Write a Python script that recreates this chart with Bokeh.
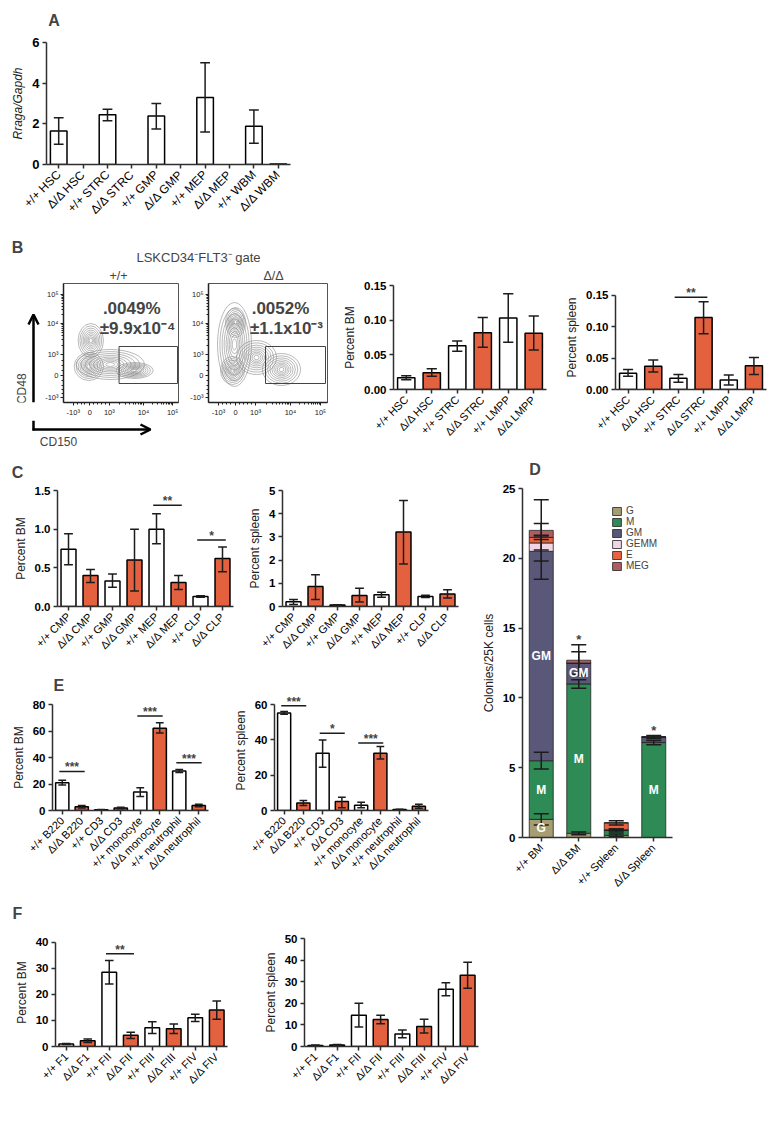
import math
import numpy as np
from bokeh.plotting import figure
from bokeh.models import (Range1d, FixedTicker, ColumnDataSource, Label, Arrow,
                          OpenHead, Legend, LegendItem, Spacer)
from bokeh.layouts import row, column
from bokeh.embed import file_html
from bokeh.resources import INLINE
from bokeh.core.properties import value

NAN = float("nan")

# ---------------- data ----------------
# Panel A
a_cats = ["+/+ HSC", "Δ/Δ HSC", "+/+ STRC", "Δ/Δ STRC", "+/+ GMP", "Δ/Δ GMP",
          "+/+ MEP", "Δ/Δ MEP", "+/+ WBM", "Δ/Δ WBM"]
a_vals = [1.65, NAN, 2.45, NAN, 2.38, NAN, 3.30, NAN, 1.88, 0.03]
a_lo = [1.00, NAN, 2.15, NAN, 1.75, NAN, 1.60, NAN, 1.05, NAN]
a_hi = [2.30, NAN, 2.72, NAN, 3.00, NAN, 5.00, NAN, 2.68, NAN]
a_yticks = [0, 2, 4, 6]
a_yticklabels = ["0", "2", "4", "6"]

# Panel B flow texts
b_flow_pct = [".0049%", ".0052%"]
b_flow_sd = ["±9.9x10⁻⁴", "±1.1x10⁻³"]
flow_tick_labels = ["-10³", "0", "10³", "10⁴", "10⁵"]
# contour populations (axis units of the flow frames)
flow1_cx = [26, 28, 73, 48]
flow1_cy = [36, 62, 32, 38]
flow1_w = [30, 26, 38, 70]
flow1_h = [28, 34, 16, 30]
flow2_cx = [26, 27, 24, 73, 48]
flow2_cy = [58, 80, 32, 33, 45]
flow2_w = [34, 20, 24, 38, 40]
flow2_h = [84, 30, 28, 32, 34]
flow_gate = [57, 19, 117, 56]  # x0, y0, x1, y1

# Panel B bars
b_cats = ["+/+ HSC", "Δ/Δ HSC", "+/+ STRC", "Δ/Δ STRC", "+/+ LMPP", "Δ/Δ LMPP"]
b_bm = [0.017, 0.024, 0.063, 0.082, 0.103, 0.081]
b_bm_lo = [0.014, 0.019, 0.055, 0.061, 0.068, 0.057]
b_bm_hi = [0.020, 0.030, 0.070, 0.104, 0.138, 0.106]
b_sp = [0.026, 0.037, 0.018, 0.115, 0.015, 0.038]
b_sp_lo = [0.021, 0.028, 0.0115, 0.089, 0.007, 0.024]
b_sp_hi = [0.032, 0.047, 0.024, 0.140, 0.023, 0.051]
b_sp_sig = [(2, 3, 0.147, "**")]
b_yticks = [0, 0.05, 0.1, 0.15]
b_yticklabels = ["0.00", "0.05", "0.10", "0.15"]

# Panel C
c_cats = ["+/+ CMP", "Δ/Δ CMP", "+/+ GMP", "Δ/Δ GMP", "+/+ MEP", "Δ/Δ MEP", "+/+ CLP", "Δ/Δ CLP"]
c_bm = [0.74, 0.40, 0.33, 0.60, 1.00, 0.31, 0.13, 0.62]
c_bm_lo = [0.54, 0.31, 0.25, 0.20, 0.81, 0.22, 0.12, 0.45]
c_bm_hi = [0.94, 0.48, 0.42, 1.00, 1.20, 0.40, 0.14, 0.77]
c_bm_sig = [(4, 5, 1.31, "**"), (6, 7, 0.86, "*")]
c_bm_yticks = [0, 0.5, 1, 1.5]
c_bm_yticklabels = ["0.0", "0.5", "1.0", "1.5"]
c_sp = [0.20, 0.86, 0.06, 0.47, 0.51, 3.21, 0.43, 0.54]
c_sp_lo = [0.09, 0.30, 0.04, 0.19, 0.40, 1.83, 0.39, 0.37]
c_sp_hi = [0.30, 1.37, 0.08, 0.79, 0.61, 4.57, 0.48, 0.72]
c_sp_yticks = [0, 1, 2, 3, 4, 5]
c_sp_yticklabels = ["0", "1", "2", "3", "4", "5"]

# Panel E
e_cats = ["+/+ B220", "Δ/Δ B220", "+/+ CD3", "Δ/Δ CD3", "+/+ monocyte", "Δ/Δ monocyte",
          "+/+ neutrophil", "Δ/Δ neutrophil"]
e_bm = [21.0, 2.8, 0.6, 1.9, 13.9, 62.0, 29.8, 3.8]
e_bm_lo = [19.3, 1.9, 0.4, 1.3, 10.6, 58.5, 28.7, 2.9]
e_bm_hi = [22.8, 3.7, 0.8, 2.5, 17.2, 66.3, 31.0, 4.8]
e_bm_sig = [(0, 1, 29.5, "***"), (4, 5, 71.4, "***"), (6, 7, 36.1, "***")]
e_bm_yticks = [0, 20, 40, 60, 80]
e_sp = [55.2, 4.3, 32.4, 5.1, 3.0, 32.4, 0.5, 2.4]
e_sp_lo = [54.5, 2.8, 24.5, 1.5, 1.5, 29.2, 0.3, 1.3]
e_sp_hi = [56.0, 5.6, 39.9, 7.5, 4.7, 36.2, 0.7, 3.6]
e_sp_sig = [(0, 1, 59.3, "***"), (2, 3, 43.7, "*"), (4, 5, 38.2, "***")]
e_sp_yticks = [0, 20, 40, 60]

# Panel F
f_cats = ["+/+ F1", "Δ/Δ F1", "+/+ FII", "Δ/Δ FII", "+/+ FIII", "Δ/Δ FIII", "+/+ FIV", "Δ/Δ FIV"]
f_bm = [1.0, 2.2, 28.5, 4.3, 7.2, 6.8, 11.0, 14.0]
f_bm_lo = [0.8, 1.5, 24.0, 3.1, 5.0, 5.0, 9.6, 10.5]
f_bm_hi = [1.2, 2.9, 33.0, 5.5, 9.5, 8.6, 12.4, 17.5]
f_bm_sig = [(2, 3, 35.6, "**")]
f_bm_yticks = [0, 10, 20, 30, 40]
f_sp = [0.5, 0.7, 14.5, 12.5, 5.8, 9.3, 26.5, 33.0]
f_sp_lo = [0.3, 0.5, 9.0, 10.5, 4.0, 6.2, 23.5, 27.0]
f_sp_hi = [0.7, 0.9, 20.0, 14.5, 7.6, 12.6, 29.5, 39.0]
f_sp_yticks = [0, 10, 20, 30, 40, 50]

# Panel D (stacked colonies)
d_groups = ["+/+ BM", "Δ/Δ BM", "+/+ Spleen", "Δ/Δ Spleen"]
d_types = ["G", "M", "GM", "GEMM", "E", "MEG"]
d_G = [1.3, 0.3, 0.15, 0.0]
d_M = [4.2, 10.7, 0.35, 6.8]
d_GM = [15.0, 1.5, 0.05, 0.4]
d_GEMM = [0.6, 0.0, 0.0, 0.0]
d_E = [0.4, 0.0, 0.5, 0.0]
d_MEG = [0.5, 0.2, 0.0, 0.0]
d_G_err = [0.4, 0.1, 0.1, 0.0]
d_M_err = [0.6, 0.3, 0.1, 0.15]
d_GM_err = [2.0, 0.8, 0.05, 0.1]
d_GEMM_err = [0.5, 0.0, 0.0, 0.0]
d_E_err = [0.15, 0.0, 0.15, 0.0]
d_MEG_err = [2.2, 1.1, 0.0, 0.0]
d_stars = ["", "*", "", "*"]
d_inbar = [("G", 0), ("M", 0), ("GM", 0), ("M", 1), ("GM", 1), ("M", 3)]
d_yticks = [0, 5, 10, 15, 20, 25]

# ---------------- style ----------------
FONT = "Liberation Sans"
ORANGE = "#e4613f"
WHITE = "#ffffff"
AX = "#2f2f2f"
D_COLORS = ["#a69d72", "#2f8b56", "#5a5879", "#f1d5e4", "#ea623d", "#b25c61"]


def make_fig(box, frame, xr, yr):
    X0, Y0, X1, Y1 = box
    L, T, R, B = frame
    p = figure(width=X1 - X0, height=Y1 - Y0, x_range=Range1d(*xr), y_range=Range1d(*yr),
               output_backend="svg", toolbar_location=None,
               min_border_left=L - X0, min_border_right=X1 - R,
               min_border_top=T - Y0, min_border_bottom=Y1 - B)
    p.outline_line_color = None
    p.xgrid.visible = False
    p.ygrid.visible = False
    return p


def strip(w, h):
    p = figure(width=w, height=h, x_range=Range1d(0, w), y_range=Range1d(h, 0),
               output_backend="svg", toolbar_location=None,
               x_axis_location=None, y_axis_location=None, min_border=0)
    p.outline_line_color = None
    p.xgrid.visible = False
    p.ygrid.visible = False
    return p


def text_label(p, x, y, t, size="12px", bold=False, angle=0.0):
    p.add_layout(Label(x=x, y=y, text=t, text_font=FONT, text_font_size=size,
                       text_font_style="bold" if bold else "normal", angle=angle,
                       text_align="center", text_baseline="middle"))


def letter_strip(w, h, lx, ly, t):
    s = strip(w, h)
    text_label(s, lx, ly, t, size="16px", bold=True)
    return s


def style_bar_axes(p, cats, yticks, yticklabels, ylabel, ymax, italic=False,
                   ytick_size="11.5px", xtick_size="11px"):
    ya = p.yaxis[0]
    ya.ticker = FixedTicker(ticks=yticks, minor_ticks=[])
    ya.bounds = (0, ymax)
    ya.major_label_overrides = {t: l for t, l in zip(yticks, yticklabels)}
    ya.major_label_text_font = FONT
    ya.major_label_text_font_size = ytick_size
    ya.major_label_text_font_style = "bold"
    ya.major_label_text_color = "black"
    ya.major_label_standoff = 3
    ya.axis_label = ylabel
    ya.axis_label_text_font = FONT
    ya.axis_label_text_font_size = "12px"
    ya.axis_label_text_font_style = "italic" if italic else "normal"
    ya.axis_label_text_color = "#222222"
    ya.axis_label_standoff = 4
    xa = p.xaxis[0]
    xa.ticker = FixedTicker(ticks=list(range(len(cats))), minor_ticks=[])
    xa.major_label_overrides = {i: c for i, c in enumerate(cats)}
    xa.major_label_orientation = math.pi / 4
    xa.major_label_text_font = FONT
    xa.major_label_text_font_size = xtick_size
    xa.major_label_text_color = "black"
    xa.major_label_standoff = 4
    for ax in (xa, ya):
        ax.axis_line_color = AX
        ax.axis_line_width = 1.5
        ax.major_tick_line_color = AX
        ax.major_tick_line_width = 1.5
        ax.major_tick_out = 4
        ax.major_tick_in = 0
        ax.minor_tick_out = 0
        ax.minor_tick_in = 0


def add_errors(p, xs, lo, hi, cap=0.2):
    xs = np.asarray(xs, float)
    kw = dict(line_color="#1c1c1c", line_width=1.5)
    p.segment(x0=xs, y0=lo, x1=xs, y1=hi, **kw)
    p.segment(x0=xs - cap, y0=lo, x1=xs + cap, y1=lo, **kw)
    p.segment(x0=xs - cap, y0=hi, x1=xs + cap, y1=hi, **kw)


def add_sig(p, sig):
    for i, j, y, t in sig:
        p.segment(x0=[i - 0.15], y0=[y], x1=[j + 0.15], y1=[y], line_color="#1c1c1c",
                  line_width=1.5)
        p.add_layout(Label(x=(i + j) / 2, y=y, text=t, text_font=FONT, text_font_size="12px",
                           text_font_style="bold", text_align="center", text_baseline="bottom",
                           y_offset=-3))


def bar_panel(box, frame, cats, vals, lo, hi, ymax, yticks, yticklabels, ylabel,
              sig=(), colored=True, italic=False, ytop=None, ytick_size="11.5px",
              xtick_size="11px"):
    L, T, R, B = frame
    yend = ymax
    if ytop is not None:
        T2 = int(round(B - (B - T) * ytop / ymax))
        yend = ymax * (B - T2) / (B - T)
        T = T2
    n = len(cats)
    p = make_fig(box, (L, T, R, B), (-0.5, n - 0.5), (0, yend))
    xs, tops, fills = [], [], []
    for i, (c, v) in enumerate(zip(cats, vals)):
        if v == v:
            xs.append(i)
            tops.append(v)
            fills.append(ORANGE if (colored and c.startswith("Δ")) else WHITE)
    p.vbar(x=xs, top=tops, width=0.68, fill_color=fills, line_color="black", line_width=1.5)
    ex, el, eh = [], [], []
    for i, (l, h) in enumerate(zip(lo, hi)):
        if l == l:
            ex.append(i)
            el.append(l)
            eh.append(h)
    add_errors(p, ex, el, eh)
    add_sig(p, sig)
    style_bar_axes(p, cats, yticks, yticklabels, ylabel, ymax, italic=italic,
                   ytick_size=ytick_size, xtick_size=xtick_size)
    return p


# ---------------- Panel A ----------------
stripA = letter_strip(292, 26, 9, 12, "A")
figA = bar_panel((8, 34, 300, 232), (43, 42, 290, 164), a_cats, a_vals, a_lo, a_hi, 6,
                 a_yticks, a_yticklabels, "Rraga/Gapdh", colored=False, italic=True,
                 ytick_size="13px", xtick_size="12px")

# ---------------- Panel B title strip ----------------
titleB = strip(332, 50)
text_label(titleB, 9, 15, "B", size="16px", bold=True)
text_label(titleB, 190, 25, "LSKCD34⁻FLT3⁻ gate", size="13px")
text_label(titleB, 110, 43, "+/+", size="12.5px")
text_label(titleB, 265, 43, "Δ/Δ", size="12.5px")

# ---------------- flow plots ----------------
FX_TICKS = [10, 27, 47, 82, 112]
FY_TICKS = [5, 27, 48, 79, 108]
RINGS = [1.0, 0.86, 0.73, 0.61, 0.5, 0.4, 0.31, 0.22, 0.13]


def flow_fig(box, frame, cx, cy, w, h, pct, sd, txt_x):
    L, T, R, B = frame
    p = make_fig(box, frame, (0, R - L), (0, B - T))
    p.outline_line_color = "#555555"
    p.outline_line_width = 1
    ex, ey, ew, eh = [], [], [], []
    for x, y, ww, hh in zip(cx, cy, w, h):
        for s in RINGS:
            ex.append(x); ey.append(y); ew.append(ww * s); eh.append(hh * s)
    p.ellipse(x=ex, y=ey, width=ew, height=eh, fill_color=None, line_color="#8a8a8a",
              line_width=0.6)
    p.quad(left=[flow_gate[0]], bottom=[flow_gate[1]], right=[flow_gate[2]], top=[flow_gate[3]],
           fill_color=None, line_color="#444444", line_width=1)
    p.add_layout(Label(x=txt_x, y=94, text=pct, text_font=FONT, text_font_size="17px",
                       text_font_style="bold", text_align="center", text_baseline="middle"))
    p.add_layout(Label(x=txt_x + 6, y=74, text=sd, text_font=FONT, text_font_size="17px",
                       text_font_style="bold", text_align="center", text_baseline="middle"))
    xminor = [47 + 35 * np.log10(k) for k in range(2, 10)] + \
             [82 + 30 * np.log10(k) for k in range(2, 10)] + [14, 18, 22, 31, 35, 39, 43]
    yminor = [48 + 31 * np.log10(k) for k in range(2, 10)] + \
             [79 + 29 * np.log10(k) for k in range(2, 10)] + [9, 13, 17, 22, 32, 37, 42]
    xa, ya = p.xaxis[0], p.yaxis[0]
    xa.ticker = FixedTicker(ticks=FX_TICKS, minor_ticks=xminor)
    ya.ticker = FixedTicker(ticks=FY_TICKS, minor_ticks=yminor)
    xa.major_label_overrides = {t: l for t, l in zip(FX_TICKS, flow_tick_labels)}
    ya.major_label_overrides = {t: l for t, l in zip(FY_TICKS, flow_tick_labels)}
    for ax in (xa, ya):
        ax.major_label_text_font = FONT
        ax.major_label_text_font_size = "7.5px"
        ax.major_label_text_color = "#222222"
        ax.major_label_standoff = 2
        ax.axis_line_color = "#222222"
        ax.axis_line_width = 1.5
        ax.major_tick_line_color = "#222222"
        ax.minor_tick_line_color = "#222222"
        ax.major_tick_out = 3
        ax.major_tick_in = 0
        ax.minor_tick_out = 2
        ax.minor_tick_in = 0
    return p


flowL = strip(34, 138)
flow1 = flow_fig((42, 282, 185, 420), (60, 283, 178, 402), flow1_cx, flow1_cy, flow1_w,
                 flow1_h, b_flow_pct[0], b_flow_sd[0], 70)
flow2 = flow_fig((185, 282, 340, 420), (208, 283, 327, 402), flow2_cx, flow2_cy, flow2_w,
                 flow2_h, b_flow_pct[1], b_flow_sd[1], 72)
flowB = strip(332, 35)
# axis arrows (strip pixel units)
flowL.add_layout(Arrow(x_start=25, y_start=138, x_end=25, y_end=36, line_width=2.5,
                       line_color="black", end=OpenHead(size=10, line_width=2.5)))
flowB.segment(x0=[25], y0=[0], x1=[25], y1=[10], line_width=2.5, line_color="black")
flowB.add_layout(Arrow(x_start=24, y_start=9, x_end=142, y_end=9, line_width=2.5,
                       line_color="black", end=OpenHead(size=10, line_width=2.5)))
text_label(flowL, 13, 122, "CD48", size="12px", angle=math.pi / 2)
text_label(flowB, 50, 21, "CD150", size="12px")

# ---------------- Panel B bars ----------------
bmB = bar_panel((340, 232, 562, 455), (390, 285, 546, 389), b_cats, b_bm, b_bm_lo, b_bm_hi,
                0.15, b_yticks, b_yticklabels, "Percent BM")
spB = bar_panel((562, 232, 771, 455), (610, 285, 766, 389), b_cats, b_sp, b_sp_lo, b_sp_hi,
                0.15, b_yticks, b_yticklabels, "Percent spleen", sig=b_sp_sig, ytop=0.166)

# ---------------- Panel C ----------------
stripC = letter_strip(462, 28, 9, 17, "C")
cBM = bar_panel((8, 483, 245, 671), (57, 490, 233, 606), c_cats, c_bm, c_bm_lo, c_bm_hi,
                1.5, c_bm_yticks, c_bm_yticklabels, "Percent BM", sig=c_bm_sig)
cSP = bar_panel((245, 483, 470, 671), (282, 490, 458, 606), c_cats, c_sp, c_sp_lo, c_sp_hi,
                5, c_sp_yticks, c_sp_yticklabels, "Percent spleen")

# ---------------- Panel E ----------------
stripE = letter_strip(222, 26, 9, 14, "E")
eBM = bar_panel((8, 697, 230, 895), (49, 704, 208, 810), e_cats, e_bm, e_bm_lo, e_bm_hi,
                80, e_bm_yticks, [str(t) for t in e_bm_yticks], "Percent BM", sig=e_bm_sig)
eSP = bar_panel((230, 671, 470, 895), (268, 704, 428, 810), e_cats, e_sp, e_sp_lo, e_sp_hi,
                60, e_sp_yticks, [str(t) for t in e_sp_yticks], "Percent spleen", sig=e_sp_sig,
                ytop=68)

# ---------------- Panel F ----------------
stripF = letter_strip(492, 30, 9, 18, "F")
fBM = bar_panel((8, 925, 260, 1117), (55, 938, 227, 1046), f_cats, f_bm, f_bm_lo, f_bm_hi,
                40, f_bm_yticks, [str(t) for t in f_bm_yticks], "Percent BM", sig=f_bm_sig,
                ytop=41.5)
fSP = bar_panel((260, 925, 500, 1117), (300, 938, 478, 1046), f_cats, f_sp, f_sp_lo, f_sp_hi,
                50, f_sp_yticks, [str(t) for t in f_sp_yticks], "Percent spleen")

# ---------------- Panel D ----------------
stripD = letter_strip(301, 26, 25, 14, "D")
figD = make_fig((470, 481, 771, 895), (522, 488, 672, 842), (-0.5, 3.5), (0, 25))
d_src = ColumnDataSource({"x": list(range(len(d_groups))), "G": d_G, "M": d_M, "GM": d_GM,
                          "GEMM": d_GEMM, "E": d_E, "MEG": d_MEG})
d_rends = figD.vbar_stack(d_types, x="x", width=0.64, color=D_COLORS, source=d_src,
                          line_color="#222222", line_width=0.8)
d_errs = [d_G_err, d_M_err, d_GM_err, d_GEMM_err, d_E_err, d_MEG_err]
d_series = [d_G, d_M, d_GM, d_GEMM, d_E, d_MEG]
cum = np.zeros(len(d_groups))
ex, el, eh = [], [], []
mids = {}
for name, s, e in zip(d_types, d_series, d_errs):
    s = np.asarray(s, float)
    top = cum + s
    for gi in range(len(d_groups)):
        mids[(name, gi)] = cum[gi] + s[gi] / 2
        if s[gi] > 0 and e[gi] > 0:
            ex.append(gi)
            el.append(top[gi] - e[gi])
            eh.append(top[gi] + e[gi])
    cum = top
add_errors(figD, ex, el, eh, cap=0.2)
for gi, st in enumerate(d_stars):
    if st:
        hi = max([h for x, h in zip(ex, eh) if x == gi] + [cum[gi]])
        figD.add_layout(Label(x=gi, y=hi, text=st, text_font=FONT, text_font_size="13px",
                              text_font_style="bold", text_align="center",
                              text_baseline="bottom", y_offset=-2))
tx = [gi for name, gi in d_inbar]
ty = [mids[(name, gi)] for name, gi in d_inbar]
tt = [name for name, gi in d_inbar]
figD.text(x=tx, y=ty, text=tt, text_font=value(FONT), text_font_size=value("12px"),
          text_font_style="bold", text_color="white", text_align="center",
          text_baseline="middle")
style_bar_axes(figD, d_groups, d_yticks, [str(t) for t in d_yticks], "Colonies/25K cells", 25)
legend = Legend(items=[LegendItem(label=n, renderers=[r]) for n, r in zip(d_types, d_rends)],
                location=(89, 266), glyph_width=11, glyph_height=10, label_height=10,
                label_text_font=FONT, label_text_font_size="10px", spacing=0, padding=0,
                margin=0, border_line_color=None, background_fill_alpha=0, label_standoff=4)
figD.add_layout(legend)

# ---------------- layout ----------------
layout = column(
    column(stripA, figA),
    row(column(titleB, row(flowL, flow1, flow2), flowB), bmB, spB),
    row(column(stripC, row(cBM, cSP), row(column(stripE, eBM), eSP)), column(stripD, figD)),
    column(stripF, row(fBM, fSP)),
)
page = column(Spacer(height=8), row(Spacer(width=8), layout))

open("out.html", "w").write(file_html(page, INLINE))
